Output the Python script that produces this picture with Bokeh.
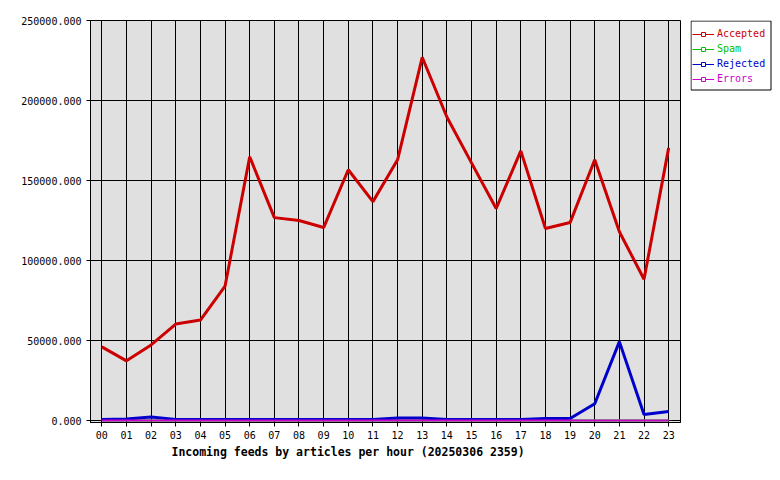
from bokeh.plotting import figure
from bokeh.layouts import row
from bokeh.models import (Legend, LegendItem, FixedTicker, Title,
                          NumeralTickFormatter, ColumnDataSource)
from bokeh.embed import file_html
from bokeh.resources import INLINE

hours = ["00", "01", "02", "03", "04", "05", "06", "07", "08", "09", "10", "11",
         "12", "13", "14", "15", "16", "17", "18", "19", "20", "21", "22", "23"]
accepted = [46000, 37300, 47200, 60300, 62800, 84000, 164800, 126800, 125000, 120600,
            156700, 136800, 162900, 227000, 189700, 161000, 132500, 168500, 120000,
            123700, 163000, 118000, 88300, 170400]
spam = [0] * 24
rejected = [600, 900, 2200, 700, 600, 600, 600, 600, 600, 600, 600, 600,
            1600, 1600, 600, 600, 600, 600, 1200, 1200, 10500, 49300, 3700, 5600]
errors = [0] * 24
y_ticks = [0, 50000, 100000, 150000, 200000, 250000]
title_text = "Incoming feeds by articles per hour (20250306 2359)"

series = [("Accepted", accepted, "#cc0000", 3),
          ("Spam", spam, "#00c000", 2),
          ("Rejected", rejected, "#0000cc", 3),
          ("Errors", errors, "#cc00cc", 2)]

FONT = "DejaVu Sans Mono"
xs = list(range(len(hours)))

p = figure(width=690, height=480, output_backend="svg", toolbar_location=None,
           x_range=(-0.46, 23.48), y_range=(-1250, 250000),
           min_border_left=90, min_border_right=10, min_border_top=20,
           min_border_bottom=58)
p.border_fill_color = "white"
p.outline_line_color = "black"
p.outline_line_width = 1
p.background_fill_color = "#e0e0e0"

for ax in (p.xaxis[0], p.yaxis[0]):
    ax.axis_line_color = "black"
    ax.major_tick_line_color = "black"
    ax.major_tick_out = 4
    ax.major_tick_in = 0
    ax.minor_tick_line_color = None
    ax.major_label_text_font = FONT
    ax.major_label_text_font_size = "10px"
    ax.major_label_text_color = "black"
    ax.major_label_standoff = 4

p.xaxis.ticker = FixedTicker(ticks=xs)
p.xaxis.major_label_overrides = {i: h for i, h in enumerate(hours)}
p.yaxis.ticker = FixedTicker(ticks=y_ticks)
p.yaxis.formatter = NumeralTickFormatter(format="0.000")
p.yaxis.major_label_standoff = 5

p.xgrid.ticker = FixedTicker(ticks=xs)
p.ygrid.ticker = FixedTicker(ticks=y_ticks)
for g in (p.xgrid[0], p.ygrid[0]):
    g.grid_line_color = "black"
    g.grid_line_width = 1
    g.grid_line_alpha = 1.0

p.add_layout(Title(text=title_text, align="left", offset=81,
                   text_font=FONT, text_font_size="11.5px", text_font_style="bold",
                   text_color="black", standoff=2), "below")

for name, vals, color, lw in series:
    p.line(xs, vals, line_color=color, line_width=lw)

# Legend panel (separate small figure to the right of the chart)
lf = figure(width=90, height=480, output_backend="svg", toolbar_location=None,
            x_range=(0, 90), y_range=(402, 0),
            x_axis_location=None, y_axis_location=None,
            min_border_left=0, min_border_right=0,
            min_border_top=20, min_border_bottom=58)
lf.outline_line_color = None
lf.background_fill_color = "white"
lf.border_fill_color = "white"
lf.xgrid.visible = False
lf.ygrid.visible = False

lf.quad(left=[0.5], right=[80.5], top=[0.5], bottom=[69.5],
        fill_color="white", line_color="black", line_width=1)

for i, (name, vals, color, lw) in enumerate(series):
    # legend-only renderers: their data lies outside the visible ranges
    off = ColumnDataSource(dict(x=[-500, -400], y=[-500, -400]))
    r = lf.line(x="x", y="y", source=off, line_color=color, line_width=1)
    m = lf.scatter(x="x", y="y", source=off, marker="square",
                   line_color=color, fill_color="white", line_width=1)
    top = 6 + 15 * i
    lg = Legend(items=[LegendItem(label=name, renderers=[r, m])],
                location=(2, 402 - top - 15),
                padding=0, margin=0, spacing=0,
                glyph_width=22, glyph_height=10, label_height=15, label_standoff=3,
                label_text_font=FONT, label_text_font_size="10px",
                label_text_color=color,
                border_line_color=None, background_fill_alpha=0.0)
    lf.add_layout(lg)

layout = row(p, lf, spacing=0)
open("out.html", "w").write(file_html(layout, INLINE))
